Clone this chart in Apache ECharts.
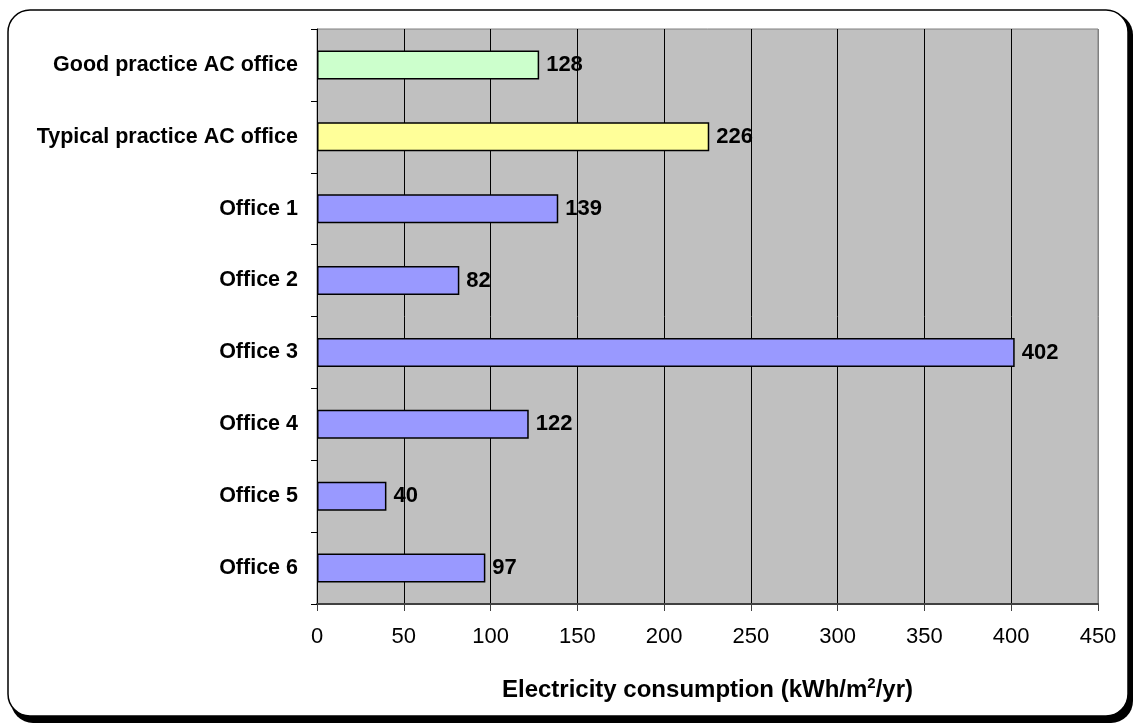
<!DOCTYPE html>
<html>
<head>
<meta charset="utf-8">
<script src="https://cdn.jsdelivr.net/npm/echarts@6/dist/echarts.min.js"></script>
<style>
html,body{margin:0;padding:0;background:#fff;}
#chart{width:1136px;height:727px;}
</style>
</head>
<body>
<div id="chart"></div>
<script>
const categories = ["Good practice AC office","Typical practice AC office","Office 1","Office 2","Office 3","Office 4","Office 5","Office 6"];
const values = [128, 226, 139, 82, 402, 122, 40, 97];
const barColors = ["#CCFFCC","#FFFF99","#9999FF","#9999FF","#9999FF","#9999FF","#9999FF","#9999FF"];
const xTicks = [0,50,100,150,200,250,300,350,400,450];
const xTitleParts = ["Electricity consumption (kWh/m", "2", "/yr)"];

const chart = echarts.init(document.getElementById('chart'), null, {renderer:'canvas'});
const font = 'Liberation Sans, Arial, sans-serif';
const splitColors = xTicks.map((t,i)=> i===xTicks.length-1 ? '#808080' : '#000');

chart.setOption({
  animation:false,
  backgroundColor:'#fff',
  graphic:[
    {type:'rect', z:-10, shape:{x:11,y:13,width:1122,height:710,r:22}, style:{fill:'#000'}},
    {type:'rect', z:-9, shape:{x:8,y:10,width:1120,height:706,r:22}, style:{fill:'#fff',stroke:'#000',lineWidth:1.5}}
  ],
  grid:{left:317,right:38,top:29,bottom:123,show:true,backgroundColor:'#C0C0C0',borderColor:'#808080',borderWidth:1},
  xAxis:{
    type:'value', min:0, max:450, interval:50,
    name:'{a|'+xTitleParts[0]+'}{s|'+xTitleParts[1]+'}{a|'+xTitleParts[2]+'}',
    nameLocation:'middle', nameGap:72,
    nameTextStyle:{
      fontFamily:font,fontSize:24,fontWeight:'bold',color:'#000',
      rich:{
        a:{fontFamily:font,fontSize:24,fontWeight:'bold',color:'#000',lineHeight:26,verticalAlign:'bottom'},
        s:{fontFamily:font,fontSize:15,fontWeight:'bold',color:'#000',lineHeight:26,verticalAlign:'top'}
      }
    },
    axisLine:{show:true,lineStyle:{color:'#404040',width:2}},
    axisTick:{show:true,length:7,lineStyle:{color:'#404040',width:1}},
    axisLabel:{fontFamily:font,fontSize:22,color:'#000',margin:22},
    splitLine:{show:true,lineStyle:{color:splitColors,width:1}}
  },
  yAxis:{
    type:'category', data:categories, inverse:true,
    axisLine:{show:true,lineStyle:{color:'#000',width:1}},
    axisTick:{show:true,length:6,lineStyle:{color:'#000'}},
    axisLabel:{fontFamily:font,fontSize:21.5,fontWeight:'bold',color:'#000',margin:19}
  },
  series:[{
    type:'bar',
    barWidth:29,
    data:values.map((v,i)=>({value:v,itemStyle:{color:barColors[i]}})),
    itemStyle:{borderColor:'#000',borderWidth:1.5},
    label:{show:true,position:'right',distance:7,fontFamily:font,fontSize:22,fontWeight:'bold',color:'#000'}
  }]
});
</script>
</body>
</html>
